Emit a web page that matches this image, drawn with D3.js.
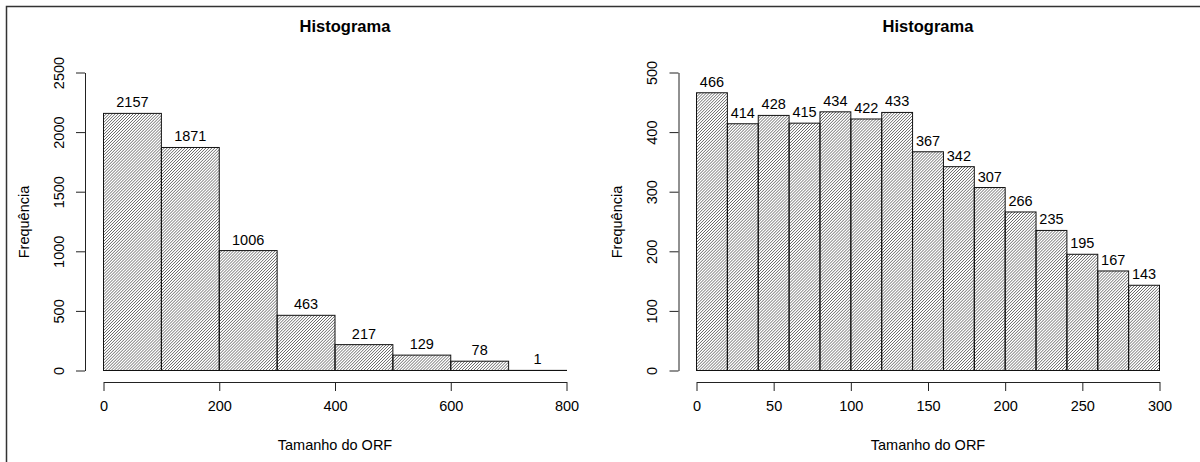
<!DOCTYPE html>
<html>
<head>
<meta charset="utf-8">
<script src="https://cdn.jsdelivr.net/npm/d3@7"></script>
<style>
  body { margin: 0; background: #fff; }
  svg text { font-family: "Liberation Sans", Arial, sans-serif; fill: #000; }
</style>
</head>
<body>
<svg id="chart" width="1200" height="462"></svg>
<script>
// histogram 1: all ORFs
const breaksA = [0, 100, 200, 300, 400, 500, 600, 700, 800];
const countsA = [2157, 1871, 1006, 463, 217, 129, 78, 1];
const xTicksA = [0, 200, 400, 600, 800];
const yTicksA = [0, 500, 1000, 1500, 2000, 2500];

// histogram 2: ORFs up to 300
const breaksB = [0, 20, 40, 60, 80, 100, 120, 140, 160, 180, 200, 220, 240, 260, 280, 300];
const countsB = [466, 414, 428, 415, 434, 422, 433, 367, 342, 307, 266, 235, 195, 167, 143];
const xTicksB = [0, 50, 100, 150, 200, 250, 300];
const yTicksB = [0, 100, 200, 300, 400, 500];

const svg = d3.select("#chart");

// hatch like R's density/angle=45
const defs = svg.append("defs");
defs.append("pattern")
    .attr("id", "hatch")
    .attr("patternUnits", "userSpaceOnUse")
    .attr("width", 2.1)
    .attr("height", 2.1)
    .attr("patternTransform", "rotate(45)")
  .append("line")
    .attr("x1", 0).attr("y1", -1)
    .attr("x2", 0).attr("y2", 4)
    .attr("stroke", "#2a2a2a")
    .attr("stroke-width", 1);

// outer frame
svg.append("rect")
    .attr("x", 6.5).attr("y", 6.5)
    .attr("width", 1300).attr("height", 600)
    .attr("fill", "none")
    .attr("stroke", "#333")
    .attr("stroke-width", 1.5);

function drawHist(o) {
    const x = d3.scaleLinear().domain(o.xDomain).range([o.x0, o.x1]);
    const y = d3.scaleLinear().domain(o.yDomain).range([o.y0, o.y1]);
    const g = svg.append("g");

    const bins = o.counts.map((c, i) => ({ a: o.breaks[i], b: o.breaks[i + 1], c: c }));

    g.selectAll("rect.bar")
        .data(bins)
        .enter()
        .append("rect")
        .attr("class", "bar")
        .attr("x", d => x(d.a))
        .attr("y", d => y(d.c))
        .attr("width", d => x(d.b) - x(d.a))
        .attr("height", d => y(0) - y(d.c))
        .attr("fill", "url(#hatch)")
        .attr("stroke", "#111")
        .attr("stroke-width", 1);

    g.selectAll("text.lab")
        .data(bins)
        .enter()
        .append("text")
        .attr("class", "lab")
        .attr("x", d => (x(d.a) + x(d.b)) / 2)
        .attr("y", d => y(d.c) - 6)
        .attr("text-anchor", "middle")
        .style("font-size", "14.5px")
        .text(d => d.c);

    // x axis
    const xa = g.append("g")
        .attr("transform", `translate(0,${o.xAxisY})`)
        .call(d3.axisBottom(x).tickValues(o.xTicks).tickFormat(d3.format("d"))
            .tickSize(9).tickPadding(10).tickSizeOuter(0));
    // y axis
    const ya = g.append("g")
        .attr("transform", `translate(${o.yAxisX},0)`)
        .call(d3.axisLeft(y).tickValues(o.yTicks).tickFormat(d3.format("d"))
            .tickSize(9).tickPadding(0).tickSizeOuter(0));
    [xa, ya].forEach(a => {
        a.select(".domain").attr("stroke", "#222");
        a.selectAll(".tick line").attr("stroke", "#222");
        a.selectAll("text").style("font-size", "14.5px").attr("fill", "#000")
            .style("font-family", "'Liberation Sans', Arial, sans-serif");
    });
    ya.selectAll(".tick text")
        .attr("x", null).attr("dy", null)
        .attr("text-anchor", "middle")
        .attr("transform", `translate(${o.yLabX - o.yAxisX},0) rotate(-90)`)
        .attr("dy", "0.35em");

    g.append("text")
        .attr("x", (o.x0 + o.x1) / 2 + o.titleShift)
        .attr("y", 32)
        .attr("text-anchor", "middle")
        .style("font-size", "16.5px")
        .style("font-weight", "bold")
        .text("Histograma");

    g.append("text")
        .attr("x", (o.x0 + o.x1) / 2)
        .attr("y", 450)
        .attr("text-anchor", "middle")
        .style("font-size", "14.5px")
        .text("Tamanho do ORF");

    g.append("text")
        .attr("transform", `translate(${o.yTitleX},222) rotate(-90)`)
        .attr("text-anchor", "middle")
        .attr("dy", "0.35em")
        .style("font-size", "14.5px")
        .text("Frequência");
}

drawHist({
    breaks: breaksA, counts: countsA, xTicks: xTicksA, yTicks: yTicksA,
    xDomain: [0, 800], yDomain: [0, 2500],
    x0: 103.5, x1: 566.5, y0: 370.5, y1: 72.5,
    xAxisY: 382, yAxisX: 85, yLabX: 59, yTitleX: 24, titleShift: 10
});

drawHist({
    breaks: breaksB, counts: countsB, xTicks: xTicksB, yTicks: yTicksB,
    xDomain: [0, 300], yDomain: [0, 500],
    x0: 696.5, x1: 1159.5, y0: 370.5, y1: 72.5,
    xAxisY: 382, yAxisX: 678.5, yLabX: 652, yTitleX: 617, titleShift: 0
});
</script>
</body>
</html>
